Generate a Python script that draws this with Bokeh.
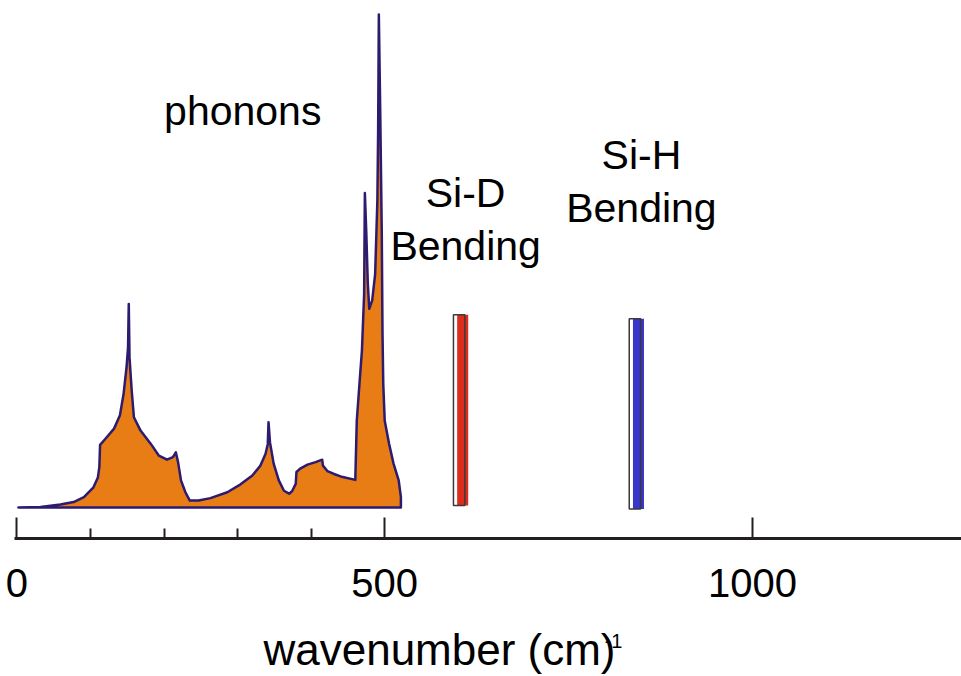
from bokeh.plotting import figure
from bokeh.models import FixedTicker, ColumnDataSource
from bokeh.core.properties import value
from bokeh.embed import file_html
from bokeh.resources import INLINE

# ---- data ----
wavenumber = [2, 32, 59, 77, 91, 104, 110, 112, 113, 120, 132, 140, 145, 149, 151, 152,
              153, 156, 159, 168, 182, 193, 204, 212, 216, 219, 223, 229, 235, 247, 263,
              286, 304, 320, 331, 338, 341, 342, 344, 349, 356, 363, 370, 374, 379, 380,
              385, 395, 406, 415, 416, 422, 431, 440, 460, 462, 467, 469, 472, 473, 475,
              477, 479, 483, 487, 490, 491, 492, 494, 496, 497, 498, 500, 506, 512, 519,
              522, 522]
phonon_dos = [0, 0.1, 0.6, 1.1, 2.1, 4.1, 6.1, 8.2, 12.7, 13.9, 16.0, 18.7, 23.1, 28.5,
              32.5, 41.3, 30.5, 23.7, 18.3, 15.6, 12.9, 10.5, 9.7, 10.2, 11.2, 9.2, 5.5,
              3.1, 1.4, 1.4, 1.9, 3.1, 4.7, 6.5, 8.5, 10.9, 12.9, 17.3, 13.2, 8.9, 5.5,
              3.4, 2.8, 3.3, 4.8, 7.2, 7.9, 8.7, 9.2, 9.7, 8.5, 7.4, 6.8, 6.3, 5.6, 17.6,
              27.8, 31.8, 43.3, 63.8, 55.5, 45.4, 40.3, 42.0, 47.4, 62.3, 75.8, 100.0,
              79.2, 55.5, 35.2, 25.1, 17.6, 12.9, 8.9, 5.5, 2.1, 0]

mode_names = ["Si-D", "Si-H"]
mode_center = [606, 845]
mode_top = [39.1, 38.3]
mode_bottom = [0.4, -0.3]
mode_colors = ["#DC2C1D", "#3835C9"]
mode_labels = ["Si-D\nBending", "Si-H\nBending"]

major_ticks = [0, 500, 1000]
minor_ticks = [100, 200, 300, 400]
tick_labels = {0: "0", 500: "500", 1000: "1000"}
x_title = "wavenumber (cm)"
x_title_sup = "-1"

FONT = "Liberation Sans"

# frame covers the whole page; the x axis is pinned inside it
p = figure(frame_width=961, frame_height=676,
           x_range=(-22.4, 1284.2), y_range=(-34.28, 102.84),
           output_backend="svg", toolbar_location=None,
           y_axis_location=None, min_border=0,
           background_fill_color="white", border_fill_color="white")
p.outline_line_color = None
p.xgrid.visible = False
p.ygrid.visible = False

# phonon density of states
p.patch(wavenumber, phonon_dos, fill_color="#E87D15", line_color="#2D1B70",
        line_width=2.5, line_join="round")

# local vibrational modes (bars with an offset outlined box)
shift = 4.8
modes = ColumnDataSource(dict(
    name=mode_names,
    center=mode_center,
    box=[c - shift for c in mode_center],
    top=mode_top,
    bottom=mode_bottom,
    color=mode_colors,
))
p.vbar(x="box", width=15.5, top="top", bottom="bottom", source=modes,
       fill_color="white", line_color=None)
p.vbar(x="center", width=15.0, top="top", bottom="bottom", source=modes,
       fill_color="color", line_color=None)
p.vbar(x="box", width=15.5, top="top", bottom="bottom", source=modes,
       fill_color=None, line_color="#3a3a3a", line_width=1.5)

# labels
p.text(x=[200], y=[80.4], text=["phonons"], text_font=value(FONT),
       text_font_size="41px", text_align="left", text_baseline="alphabetic",
       text_color="black")
p.text(x=[610, 849], y=[68.4, 76.1], text=mode_labels, text_font=value(FONT),
       text_font_size="41px", text_align="center", text_baseline="top",
       text_line_height=1.15, text_color="black")

# x axis
ax = p.xaxis[0]
ax.fixed_location = -6.29
ax.ticker = FixedTicker(ticks=major_ticks, minor_ticks=minor_ticks)
ax.major_label_overrides = tick_labels
ax.bounds = (-3, 1290)
ax.axis_line_width = 3
ax.axis_line_color = "#231f20"
ax.major_tick_in = 21
ax.major_tick_out = 0
ax.minor_tick_in = 10
ax.minor_tick_out = 0
ax.major_tick_line_width = 2
ax.minor_tick_line_width = 2
ax.major_tick_line_color = "#231f20"
ax.minor_tick_line_color = "#231f20"
ax.major_label_text_font = FONT
ax.major_label_text_font_size = "40px"
ax.major_label_text_color = "black"
ax.major_label_standoff = 30

# axis title with its superscript
p.text(x=[335.1], y=[-23.9], text=[x_title], text_font=value(FONT),
       text_font_size="44px", text_align="left", text_baseline="top",
       text_color="black")
p.text(x=[799], y=[-25.6], text=[x_title_sup], text_font=value(FONT),
       text_font_size="20px", text_align="left", text_baseline="top",
       text_color="black")

open("out.html", "w").write(file_html(p, INLINE))
